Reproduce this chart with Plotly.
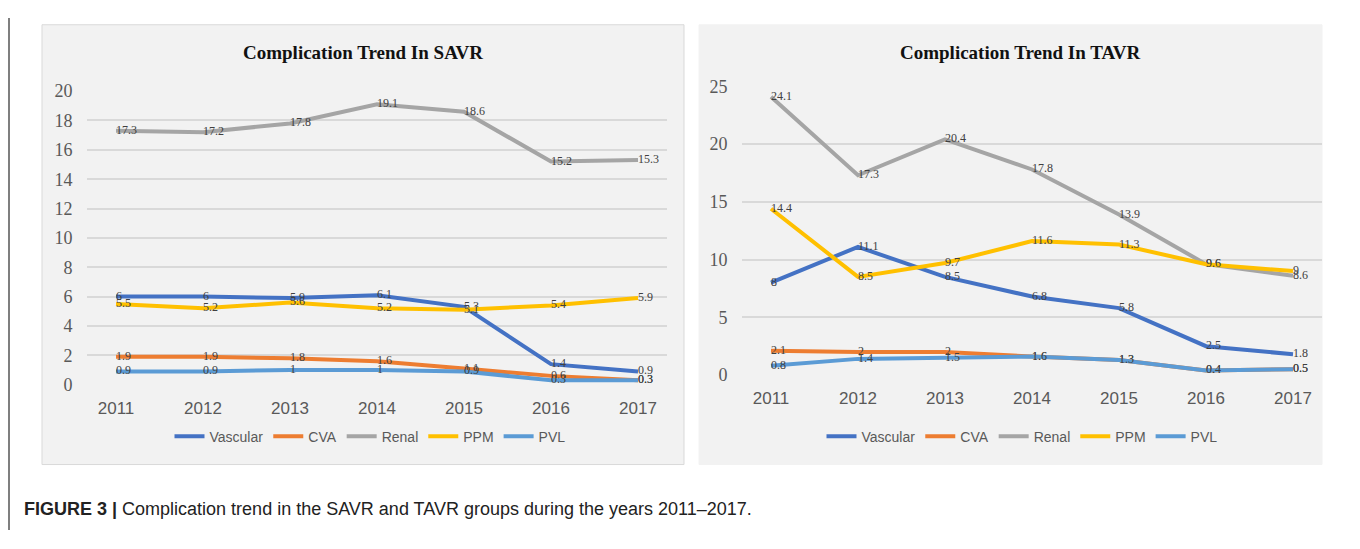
import plotly.graph_objects as go

# data
years = ["2011", "2012", "2013", "2014", "2015", "2016", "2017"]
series_names = ["Vascular", "CVA", "Renal", "PPM", "PVL"]
colors = ["#4472C4", "#ED7D31", "#A5A5A5", "#FFC000", "#5B9BD5"]

savr_vascular = [6, 6, 5.9, 6.1, 5.3, 1.4, 0.9]
savr_cva = [1.9, 1.9, 1.8, 1.6, 1.1, 0.6, 0.3]
savr_renal = [17.3, 17.2, 17.8, 19.1, 18.6, 15.2, 15.3]
savr_ppm = [5.5, 5.2, 5.6, 5.2, 5.1, 5.4, 5.9]
savr_pvl = [0.9, 0.9, 1, 1, 0.9, 0.3, 0.3]

tavr_vascular = [8, 11.1, 8.5, 6.8, 5.8, 2.5, 1.8]
tavr_cva = [2.1, 2, 2, 1.6, 1.3, 0.4, 0.5]
tavr_renal = [24.1, 17.3, 20.4, 17.8, 13.9, 9.6, 8.6]
tavr_ppm = [14.4, 8.5, 9.7, 11.6, 11.3, 9.6, 9]
tavr_pvl = [0.8, 1.4, 1.5, 1.6, 1.3, 0.4, 0.5]

savr = [savr_vascular, savr_cva, savr_renal, savr_ppm, savr_pvl]
tavr = [tavr_vascular, tavr_cva, tavr_renal, tavr_ppm, tavr_pvl]

# page offset of the plot div (body margin + inline whitespace)
OX, OY = 8, 17
W, H = 1360 - OX, 549 - OY


def px_x(v):
    return (v - OX) / W


def px_y(v):
    return 1 - (v - OY) / H


fig = go.Figure()

label_font = dict(family="Liberation Serif", size=12, color="#404040")
for i, name in enumerate(series_names):
    fig.add_trace(go.Scatter(
        x=years, y=savr[i], name=name, mode="lines+text",
        text=[str(v) for v in savr[i]], textposition="middle right", textfont=label_font,
        line=dict(color=colors[i], width=4), cliponaxis=False,
        xaxis="x", yaxis="y", legend="legend",
    ))
for i, name in enumerate(series_names):
    fig.add_trace(go.Scatter(
        x=years, y=tavr[i], name=name, mode="lines+text",
        text=[str(v) for v in tavr[i]], textposition="middle right", textfont=label_font,
        line=dict(color=colors[i], width=4), cliponaxis=False,
        xaxis="x2", yaxis="y2", legend="legend2",
    ))

xfont = dict(family="Liberation Sans Narrow, Arial Narrow, Liberation Sans, sans-serif", size=17, color="#595959")
yfont = dict(family="Liberation Serif, serif", size=18, color="#595959")
common_x = dict(showgrid=False, zeroline=False, showline=False, tickfont=xfont,
                ticks="outside", ticklen=8, tickcolor="rgba(0,0,0,0)")
common_y = dict(showgrid=True, gridcolor="#d9d9d9", gridwidth=1.5, zeroline=False,
                showline=False, tickfont=yfont, ticks="outside", ticklen=10,
                tickcolor="rgba(0,0,0,0)")
legend_font = dict(family="Liberation Sans Narrow, Arial Narrow, Liberation Sans, sans-serif", size=14, color="#595959")

fig.update_layout(
    width=W, height=H,
    margin=dict(l=0, r=0, t=0, b=0),
    paper_bgcolor="white", plot_bgcolor="rgba(0,0,0,0)",
    xaxis=dict(domain=[px_x(87), px_x(667)], anchor="y", **common_x),
    yaxis=dict(domain=[px_y(398), px_y(93)], range=[0, 20], dtick=2, anchor="x", **common_y),
    xaxis2=dict(domain=[px_x(742), px_x(1322)], anchor="y2", **common_x),
    yaxis2=dict(domain=[px_y(388), px_y(88)], range=[0, 25], dtick=5, anchor="x2", **common_y),
    legend=dict(orientation="h", x=px_x(370), xanchor="center", y=px_y(452), yanchor="middle",
                font=legend_font, bgcolor="rgba(0,0,0,0)", itemwidth=30, tracegroupgap=0),
    legend2=dict(orientation="h", x=px_x(1022), xanchor="center", y=px_y(452), yanchor="middle",
                 font=legend_font, bgcolor="rgba(0,0,0,0)", itemwidth=30, tracegroupgap=0),
    showlegend=True,
)

# panel backgrounds and outer frame
fig.add_shape(type="rect", xref="paper", yref="paper", layer="below",
              x0=px_x(42), x1=px_x(684), y0=px_y(481), y1=px_y(24),
              fillcolor="#f2f2f2", line=dict(color="#d9d9d9", width=1))
fig.add_shape(type="rect", xref="paper", yref="paper", layer="below",
              x0=px_x(699), x1=px_x(1322), y0=px_y(481), y1=px_y(24),
              fillcolor="#f2f2f2", line=dict(color="#f2f2f2", width=1))
fig.add_shape(type="line", xref="paper", yref="paper", layer="below",
              x0=px_x(9), x1=px_x(9), y0=0, y1=1, line=dict(color="#555555", width=1.5))
fig.add_shape(type="line", xref="paper", yref="paper", layer="below",
              x0=px_x(1356), x1=px_x(1356), y0=0, y1=1, line=dict(color="#777777", width=1.5))

title_font = dict(family="Liberation Serif, serif", size=19, color="#111111")
fig.add_annotation(text="<b>Complication Trend In SAVR</b>", xref="paper", yref="paper",
                   x=px_x(363), y=px_y(53), xanchor="center", yanchor="middle",
                   showarrow=False, font=title_font)
fig.add_annotation(text="<b>Complication Trend In TAVR</b>", xref="paper", yref="paper",
                   x=px_x(1020), y=px_y(53), xanchor="center", yanchor="middle",
                   showarrow=False, font=title_font)
fig.add_annotation(text="<b>FIGURE 3 |</b> Complication trend in the SAVR and TAVR groups during the years 2011–2017.",
                   xref="paper", yref="paper", x=px_x(22), y=px_y(527), xanchor="left", yanchor="middle",
                   showarrow=False, font=dict(family="Liberation Sans, Arial, sans-serif", size=18, color="#222222"))

fig.write_html("out.html")
